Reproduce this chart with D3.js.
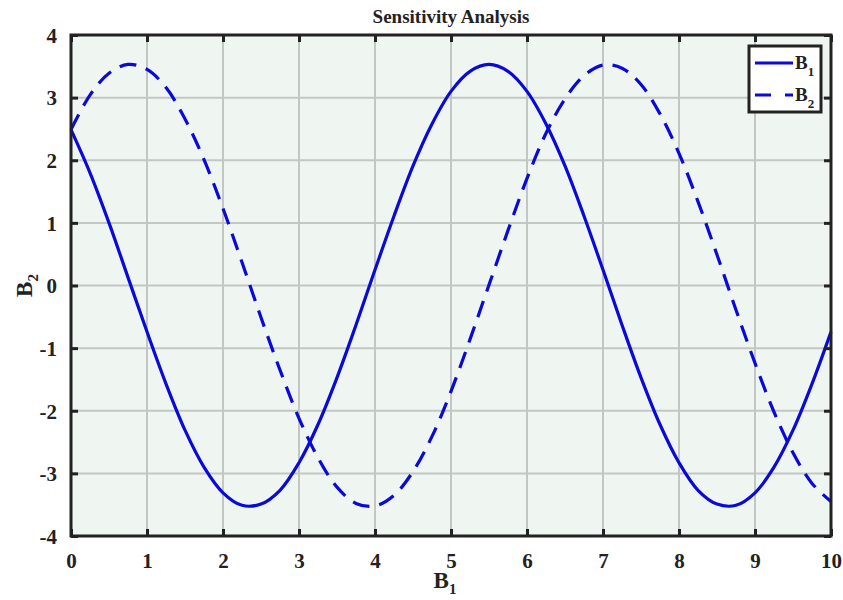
<!DOCTYPE html>
<html>
<head>
<meta charset="utf-8">
<script src="https://cdn.jsdelivr.net/npm/d3@7"></script>
<style>
  body { margin: 0; background: #fff; }
  text { font-family: "Liberation Serif", "Times New Roman", serif; font-weight: bold; fill: #222; }
</style>
</head>
<body>
<svg id="chart" width="843" height="600"></svg>
<script>
// ---- data ----
const xValues = [0,0.25,0.5,0.75,1,1.25,1.5,1.75,2,2.25,2.5,2.75,3,3.25,3.5,3.75,4,4.25,4.5,4.75,5,5.25,5.5,5.75,6,6.25,6.5,6.75,7,7.25,7.5,7.75,8,8.25,8.5,8.75,9,9.25,9.5,9.75,10];
const seriesB1 = [2.49,1.80,1.00,0.13,-0.74,-1.57,-2.31,-2.90,-3.31,-3.51,-3.49,-3.27,-2.83,-2.22,-1.47,-0.63,0.25,1.11,1.91,2.58,3.10,3.42,3.53,3.42,3.10,2.58,1.91,1.11,0.25,-0.63,-1.47,-2.22,-2.83,-3.27,-3.49,-3.51,-3.31,-2.90,-2.31,-1.57,-0.74];
const seriesB2 = [2.49,3.04,3.39,3.53,3.45,3.16,2.66,2.01,1.23,0.37,-0.51,-1.35,-2.12,-2.75,-3.22,-3.48,-3.52,-3.35,-2.97,-2.41,-1.69,-0.86,0.01,0.88,1.71,2.43,2.98,3.35,3.52,3.47,3.21,2.74,2.11,1.34,0.49,-0.39,-1.24,-2.02,-2.67,-3.16,-3.45];
const xTicks = [0,1,2,3,4,5,6,7,8,9,10];
const yTicks = [-4,-3,-2,-1,0,1,2,3,4];
const titleText = "Sensitivity Analysis";
const legendNames = ["1","2"];

// ---- layout ----
const W = 843, H = 600;
const m = { left: 71, right: 12, top: 35, bottom: 64 };
const iw = W - m.left - m.right, ih = H - m.top - m.bottom;
const svg = d3.select("#chart");
const g = svg.append("g").attr("transform", `translate(${m.left},${m.top})`);

const x = d3.scaleLinear().domain([0, 10]).range([0, iw]);
const y = d3.scaleLinear().domain([-4, 4]).range([ih, 0]);

// background
g.append("rect").attr("width", iw).attr("height", ih).attr("fill", "#eff5f1");

// grid
g.append("g").selectAll("line").data(xTicks).join("line")
  .attr("x1", d => x(d)).attr("x2", d => x(d)).attr("y1", 0).attr("y2", ih)
  .attr("stroke", "#c3c7c4").attr("stroke-width", 2);
g.append("g").selectAll("line").data(yTicks).join("line")
  .attr("y1", d => y(d)).attr("y2", d => y(d)).attr("x1", 0).attr("x2", iw)
  .attr("stroke", "#c3c7c4").attr("stroke-width", 2);

// lines
const line = d3.line().x((d, i) => x(xValues[i])).y(d => y(d)).curve(d3.curveCatmullRom);
const blue = "#0a0ad8";
g.append("path").attr("d", line(seriesB1)).attr("fill", "none")
  .attr("stroke", blue).attr("stroke-width", 3.2);
g.append("path").attr("d", line(seriesB2)).attr("fill", "none")
  .attr("stroke", blue).attr("stroke-width", 3.2).attr("stroke-dasharray", "17,10");

// axes with inward ticks
const tickLen = 7;
const fmt = d => String(d);
const axB = g.append("g").attr("transform", `translate(0,${ih})`)
  .call(d3.axisBottom(x).tickValues(xTicks).tickSize(-tickLen).tickPadding(tickLen + 12).tickFormat(fmt));
const axT = g.append("g")
  .call(d3.axisTop(x).tickValues(xTicks).tickSize(-tickLen).tickFormat(""));
const axL = g.append("g")
  .call(d3.axisLeft(y).tickValues(yTicks).tickSize(-tickLen).tickPadding(tickLen + 7).tickFormat(fmt));
const axR = g.append("g").attr("transform", `translate(${iw},0)`)
  .call(d3.axisRight(y).tickValues(yTicks).tickSize(-tickLen).tickFormat(""));
[axB, axT, axL, axR].forEach(a => {
  a.attr("font-family", null).attr("font-size", null);
  a.select(".domain").remove();
  a.selectAll(".tick line").attr("stroke", "#222").attr("stroke-width", 3);
  a.selectAll("text").style("font-size", "21px").attr("fill", "#222")
    .style("font-family", '"Liberation Serif", serif').style("font-weight", "bold");
});
axL.selectAll("text").attr("dy", "0.35em");
axB.selectAll("text").attr("dy", "0.6em");

// border
g.append("rect").attr("width", iw).attr("height", ih).attr("fill", "none")
  .attr("stroke", "#222").attr("stroke-width", 3);

// title
svg.append("text").attr("x", m.left + iw / 2).attr("y", 23).attr("text-anchor", "middle")
  .style("font-size", "19px").text(titleText);

// x label
const xl = svg.append("text").attr("x", m.left + iw / 2 - 6).attr("y", 588).attr("text-anchor", "middle")
  .style("font-size", "23px");
xl.append("tspan").text("B");
xl.append("tspan").attr("dy", 6).style("font-size", "15px").text("1");

// y label
const yl = svg.append("text").attr("transform", `translate(32,${m.top + ih / 2}) rotate(-90)`)
  .attr("text-anchor", "middle").style("font-size", "23px");
yl.append("tspan").text("B");
yl.append("tspan").attr("dy", 6).style("font-size", "15px").text("2");

// legend
const lg = svg.append("g");
lg.append("rect").attr("x", 749).attr("y", 46).attr("width", 72).attr("height", 66)
  .attr("fill", "#fff").attr("stroke", "#222").attr("stroke-width", 3);
const rows = [63, 95];
lg.append("line").attr("x1", 755).attr("x2", 793).attr("y1", rows[0]).attr("y2", rows[0])
  .attr("stroke", blue).attr("stroke-width", 3.2);
lg.append("line").attr("x1", 755).attr("x2", 793).attr("y1", rows[1]).attr("y2", rows[1])
  .attr("stroke", blue).attr("stroke-width", 3.2).attr("stroke-dasharray", "16,14");
legendNames.forEach((n, i) => {
  const t = lg.append("text").attr("x", 795).attr("y", rows[i] + 6).style("font-size", "19px");
  t.append("tspan").text("B");
  t.append("tspan").attr("dy", 7).style("font-size", "13px").text(n);
});
</script>
</body>
</html>
